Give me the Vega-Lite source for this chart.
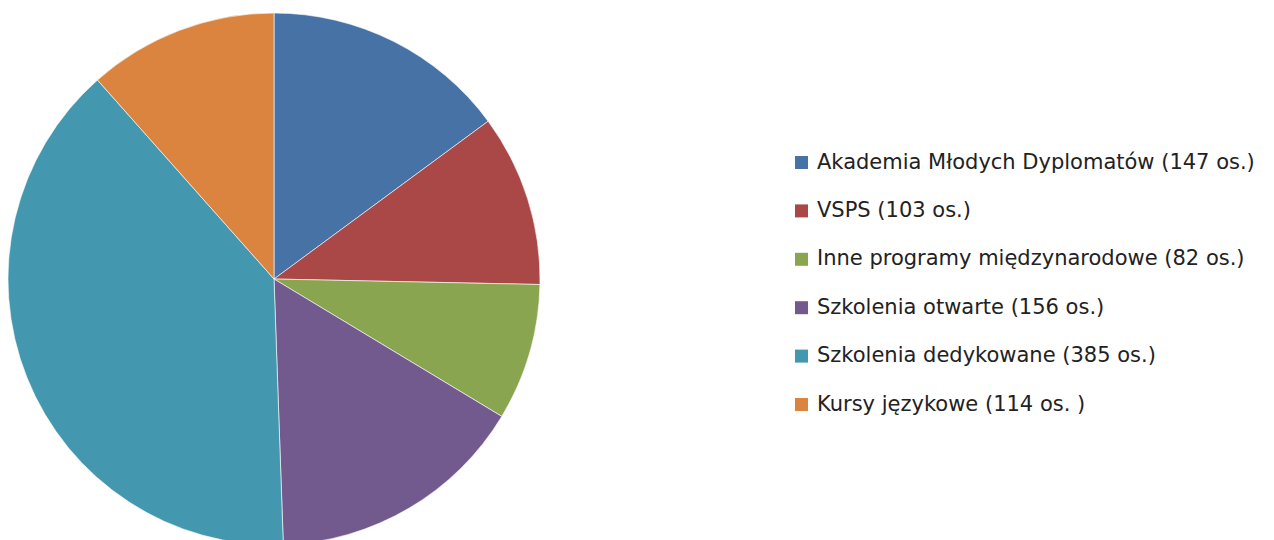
{
  "$schema": "https://vega.github.io/schema/vega-lite/v6.json",
  "width": 548,
  "height": 558,
  "padding": 0,
  "autosize": {"type": "pad"},
  "background": "white",
  "config": {"view": {"stroke": null}},
  "data": {
    "values": [
      {"k": 1, "label": "Akademia Młodych Dyplomatów (147 os.)", "value": 147},
      {"k": 2, "label": "VSPS (103 os.)", "value": 103},
      {"k": 3, "label": "Inne programy międzynarodowe (82 os.)", "value": 82},
      {"k": 4, "label": "Szkolenia otwarte (156 os.)", "value": 156},
      {"k": 5, "label": "Szkolenia dedykowane (385 os.)", "value": 385},
      {"k": 6, "label": "Kursy językowe (114 os. )", "value": 114}
    ]
  },
  "mark": {"type": "arc", "outerRadius": 266, "stroke": "white", "strokeWidth": 0.6},
  "encoding": {
    "theta": {"field": "value", "type": "quantitative", "stack": true},
    "order": {"field": "k", "type": "quantitative"},
    "color": {
      "field": "label",
      "type": "nominal",
      "sort": null,
      "scale": {
        "domain": [
          "Akademia Młodych Dyplomatów (147 os.)",
          "VSPS (103 os.)",
          "Inne programy międzynarodowe (82 os.)",
          "Szkolenia otwarte (156 os.)",
          "Szkolenia dedykowane (385 os.)",
          "Kursy językowe (114 os. )"
        ],
        "range": ["#4672A6", "#A94846", "#8AA550", "#72598E", "#4398AF", "#DA843F"]
      },
      "legend": {
        "title": null,
        "orient": "none",
        "legendX": 791,
        "legendY": 152,
        "symbolType": "square",
        "symbolSize": 169,
        "symbolStrokeWidth": 0,
        "symbolOpacity": 1,
        "labelFont": "DejaVu Sans",
        "labelFontSize": 21,
        "labelColor": "#222222",
        "labelOffset": 5,
        "labelLimit": 600,
        "rowPadding": 26.4
      }
    }
  }
}
